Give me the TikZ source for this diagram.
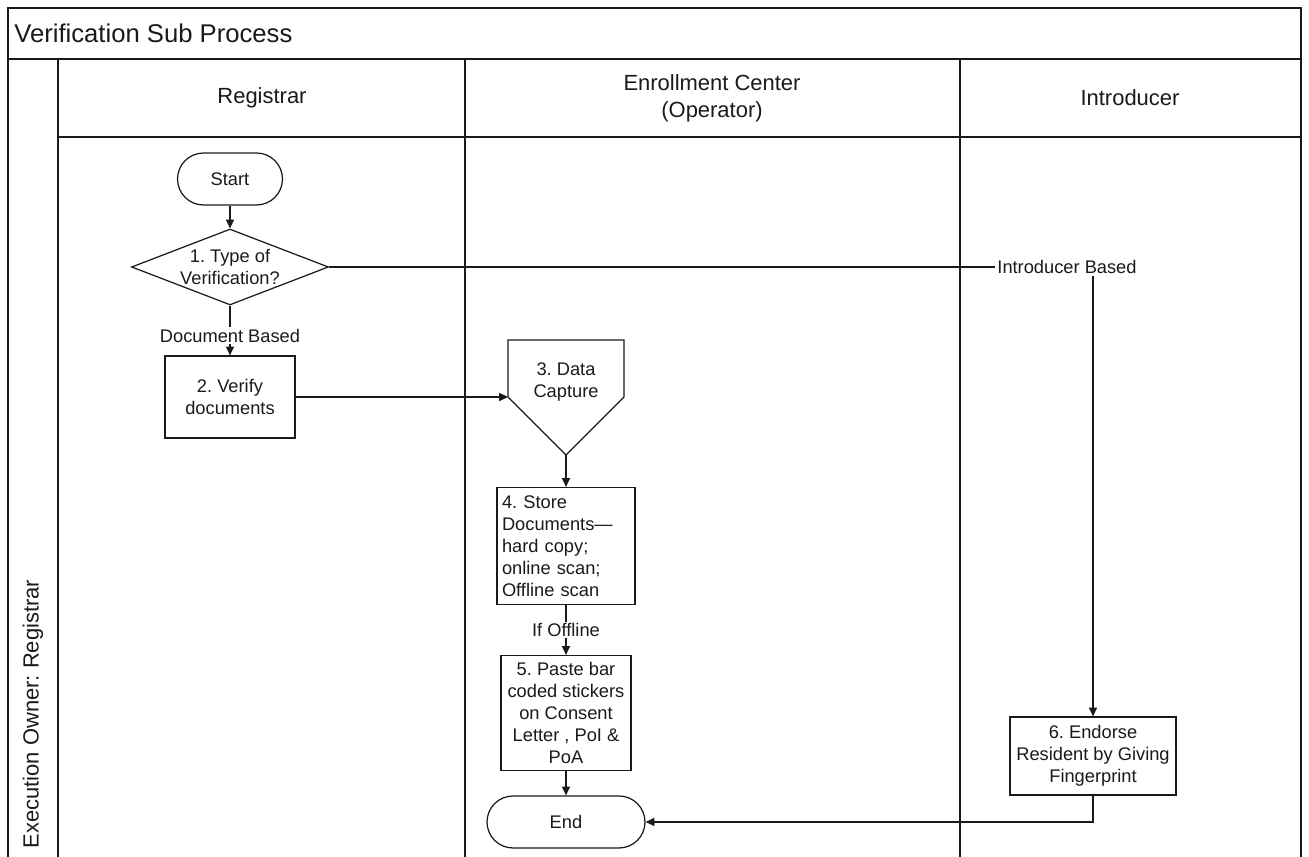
\documentclass[tikz,border=0pt]{standalone}
\usepackage{fontspec}
\setmainfont{Liberation Sans}
\usepackage{tikz}
\usetikzlibrary{shapes.geometric,arrows.meta}
\definecolor{ink}{HTML}{1A1A1A}
\frenchspacing
\tikzset{
  lane/.style={draw=ink, line width=0.8pt},
  frame/.style={draw=ink, line width=1.6pt},
  link/.style={draw=ink, line width=0.7pt, line join=miter},
  flow/.style={link, -{Triangle[length=5pt,width=4.6pt]}},
  txt/.style={text=ink, font=\fontsize{10.4}{12.5}\selectfont, align=center},
  term/.style={txt, draw=ink, line width=0.7pt, rounded corners=0.52cm, minimum height=1.04cm},
  proc/.style={txt, draw=ink, line width=0.7pt, inner sep=1pt},
  decide/.style={txt, draw=ink, line width=0.7pt, diamond, aspect=2.6, inner sep=0pt,
    minimum width=3.94cm, minimum height=1.52cm},
  lbl/.style={txt, fill=white, inner sep=1pt},
  head/.style={text=ink, font=\fontsize{12.5}{15.3}\selectfont, align=center},
}

\begin{document}
\begin{tikzpicture}[x=0.02cm, y=-0.02cm]
  \useasboundingbox (0,0) rectangle (1309,857);

  % pool and lanes
  \draw[lane] (8,857) -- (8,8) -- (1301,8) -- (1301,857);
  \draw[frame] (8,59) -- (1301,59);
  \draw[lane] (58,59) -- (58,857);
  \draw[lane] (465,59) -- (465,857);
  \draw[lane] (960,59) -- (960,857);
  \draw[lane] (58,137) -- (1301,137);

  \node[head, anchor=west, inner sep=0pt, font=\fontsize{14.6}{17}\selectfont] (title) at (14,33) {Verification Sub Process};
  \node[head, rotate=90] (owner) at (33,714) {Execution Owner: Registrar};
  \node[head] (hreg) at (262,98) {Registrar};
  \node[head] (henr) at (712,98) {Enrollment Center\\(Operator)};
  \node[head] (hint) at (1130,98) {Introducer};

  % steps
  \node[term, minimum width=2.1cm] (start) at (230,179) {Start};
  \node[decide] (type) at (230,267) {1. Type of\\Verification?};
  \node[proc, minimum width=2.6cm, minimum height=1.64cm] (verify) at (230,397) {2. Verify\\documents};

  \coordinate (capA) at (508,340);
  \coordinate (capB) at (624,340);
  \coordinate (capC) at (624,397);
  \coordinate (captip) at (566,455);
  \coordinate (capin) at (508,397);
  \draw[link] (capA) -- (capB) -- (capC) -- (captip) -- (capin) -- cycle;
  \node[txt] (capture) at (566,382) {3. Data\\Capture};

  \node[proc, align=left, text width=2.56cm, inner xsep=0.1cm, minimum height=2.34cm] (store) at (566,546)
    {4. Store\\Documents—\\hard copy;\\online scan;\\Offline scan};
  \node[proc, minimum width=2.6cm, minimum height=2.3cm] (paste) at (566,713)
    {5. Paste bar\\coded stickers\\on Consent\\Letter , PoI \&\\PoA};
  \node[term, minimum width=3.16cm] (end) at (566,822) {End};

  \node[txt, inner sep=1pt] (intro) at (1067,267) {Introducer Based};
  \node[proc, minimum width=3.32cm, minimum height=1.56cm] (endorse) at (1093,756)
    {6. Endorse\\Resident by Giving\\Fingerprint};

  % connectors
  \draw[flow] (start) -- (type);
  \draw[flow] (type) -- node[lbl, pos=0.6] {Document Based} (verify);
  \draw[flow] (verify.east) -- (capin);
  \draw[flow] (captip) -- (store);
  \draw[flow] (store) -- node[lbl] {If Offline} (paste);
  \draw[flow] (paste) -- (end);
  \draw[link] (type.east) -- (intro.west);
  \draw[flow] (intro.south -| endorse.north) -- (endorse.north);
  \draw[flow] (endorse.south) |- (end.east);
\end{tikzpicture}
\end{document}
